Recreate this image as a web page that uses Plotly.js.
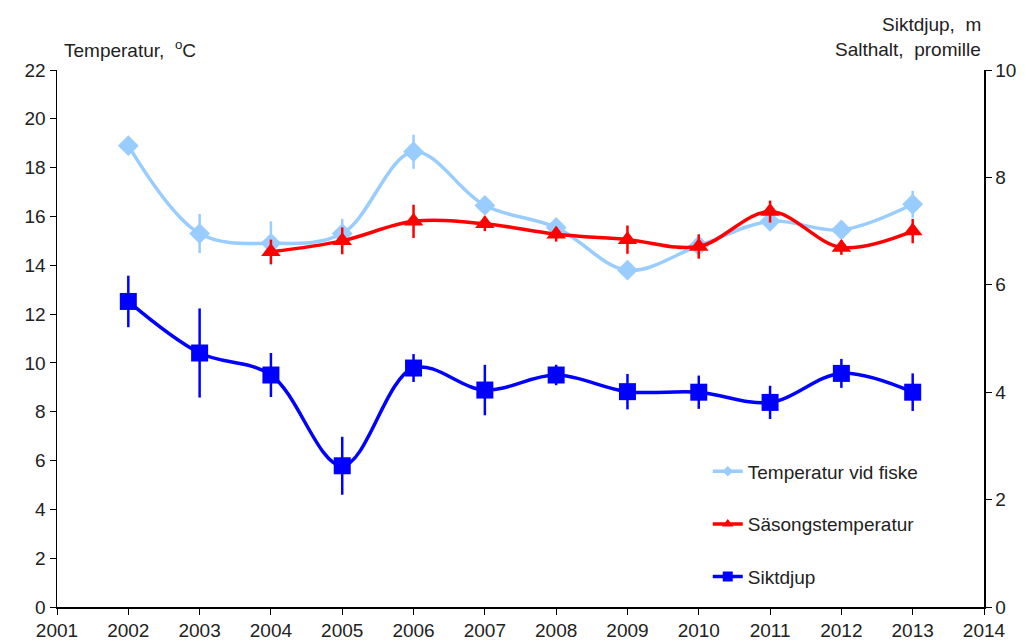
<!DOCTYPE html>
<html>
<head>
<meta charset="utf-8">
<script src="https://cdn.plot.ly/plotly-3.0.1.min.js"></script>
<style>html,body{margin:0;padding:0;background:#fff;}#chart{width:1026px;height:644px;}</style>
</head>
<body>
<div id="chart"></div>
<script>
const years = [2002, 2003, 2004, 2005, 2006, 2007, 2008, 2009, 2010, 2011, 2012, 2013];
const seasonYears = [2004, 2005, 2006, 2007, 2008, 2009, 2010, 2011, 2012, 2013];

const tempFishing = [18.9, 15.3, 14.9, 15.3, 18.65, 16.45, 15.55, 13.8, 14.8, 15.8, 15.45, 16.5];
const tempFishingErr = [0, 0.8, 0.9, 0.6, 0.7, 0.3, 0.3, 0.3, 0.3, 0.3, 0.3, 0.55];

const seasonTemp = [14.55, 15.0, 15.8, 15.7, 15.27, 15.05, 14.77, 16.2, 14.73, 15.4];
const seasonTempErr = [0.5, 0.55, 0.68, 0.3, 0.3, 0.58, 0.5, 0.45, 0.3, 0.5];

const secchi = [5.69, 4.73, 4.32, 2.63, 4.45, 4.04, 4.32, 4.01, 4.0, 3.81, 4.35, 4.0];
const secchiErr = [0.48, 0.83, 0.41, 0.54, 0.26, 0.47, 0.19, 0.33, 0.31, 0.31, 0.27, 0.35];

const names = ['Temperatur vid fiske', 'Säsongstemperatur', 'Siktdjup'];
const leftTicks = [0, 2, 4, 6, 8, 10, 12, 14, 16, 18, 20, 22];
const rightTicks = [0, 2, 4, 6, 8, 10];
const xTicks = [2001, 2002, 2003, 2004, 2005, 2006, 2007, 2008, 2009, 2010, 2011, 2012, 2013, 2014];

const FONT = 'Liberation Sans, Arial, sans-serif';
const TXT = '#222222';
const FS = 19;
const colors = ['#99CCFF', '#FF0000', '#0000FF'];
const symbols = ['diamond', 'triangle-up', 'square'];

const traces = [
  {
    x: years, y: tempFishing, name: names[0], type: 'scatter', mode: 'lines+markers',
    showlegend: false,
    line: {color: colors[0], width: 3.5, shape: 'spline', smoothing: 1},
    marker: {symbol: symbols[0], size: 16, color: colors[0]},
    error_y: {type: 'data', array: tempFishingErr, visible: true, color: colors[0], thickness: 2.5, width: 0}
  },
  {
    x: seasonYears, y: seasonTemp, name: names[1], type: 'scatter', mode: 'lines+markers',
    showlegend: false,
    line: {color: colors[1], width: 3.5, shape: 'spline', smoothing: 1},
    marker: {symbol: symbols[1], size: 17, color: colors[1]},
    error_y: {type: 'data', array: seasonTempErr, visible: true, color: colors[1], thickness: 2.5, width: 0}
  },
  {
    x: years, y: secchi, name: names[2], type: 'scatter', mode: 'lines+markers', yaxis: 'y2',
    showlegend: false,
    line: {color: colors[2], width: 3.5, shape: 'spline', smoothing: 1},
    marker: {symbol: symbols[2], size: 17, color: colors[2]},
    error_y: {type: 'data', array: secchiErr, visible: true, color: colors[2], thickness: 2.5, width: 0}
  }
];

// legend-only entries (no data) with small legend symbols, as in the reference
const legendSizes = [8, 10, 10];
names.forEach((n, i) => {
  traces.push({
    x: [null], y: [null], name: n, type: 'scatter', mode: 'lines+markers',
    legendgroup: 'g' + i, showlegend: true, hoverinfo: 'skip',
    line: {color: colors[i], width: 3.5},
    marker: {symbol: symbols[i], size: legendSizes[i], color: colors[i]}
  });
});

const layout = {
  width: 1026, height: 644,
  margin: {l: 57, r: 42, t: 70, b: 37},
  paper_bgcolor: '#ffffff', plot_bgcolor: '#ffffff',
  font: {family: FONT, size: FS, color: TXT},
  showlegend: true,
  legend: {
    x: 0.702, y: 0.288, xanchor: 'left', yanchor: 'top',
    bgcolor: 'rgba(0,0,0,0)', tracegroupgap: 25,
    font: {family: FONT, size: FS, color: TXT}
  },
  xaxis: {
    range: [2001, 2014], tickvals: xTicks, ticktext: xTicks.map(String),
    showgrid: false, zeroline: false, showline: true, linecolor: '#000', linewidth: 1.5,
    ticks: 'outside', ticklen: 6, tickcolor: '#000', tickfont: {size: FS, color: TXT}
  },
  yaxis: {
    range: [0, 22], tickvals: leftTicks, ticktext: leftTicks.map(String),
    showgrid: false, zeroline: false, showline: true, linecolor: '#000', linewidth: 1.5,
    ticks: 'outside', ticklen: 6, tickcolor: '#000', tickfont: {size: FS, color: TXT}
  },
  yaxis2: {
    range: [0, 10], tickvals: rightTicks, ticktext: rightTicks.map(String),
    overlaying: 'y', side: 'right',
    showgrid: false, zeroline: false, showline: true, linecolor: '#000', linewidth: 1.5,
    ticks: 'outside', ticklen: 6, tickcolor: '#000', tickfont: {size: FS, color: TXT}
  },
  annotations: [
    {text: 'Temperatur,  <sup>o</sup>C', xref: 'paper', yref: 'paper', x: 0.005, y: 1.0, xanchor: 'left', yanchor: 'bottom', yshift: 7, showarrow: false, font: {size: FS, color: TXT}},
    {text: 'Siktdjup,  m', xref: 'paper', yref: 'paper', x: 0.9985, y: 1.0, xanchor: 'right', yanchor: 'bottom', yshift: 33, showarrow: false, font: {size: FS, color: TXT}},
    {text: 'Salthalt,  promille', xref: 'paper', yref: 'paper', x: 0.9985, y: 1.0, xanchor: 'right', yanchor: 'bottom', yshift: 8, showarrow: false, font: {size: FS, color: TXT}}
  ]
};

Plotly.newPlot('chart', traces, layout, {displayModeBar: false, staticPlot: true});
</script>
</body>
</html>
